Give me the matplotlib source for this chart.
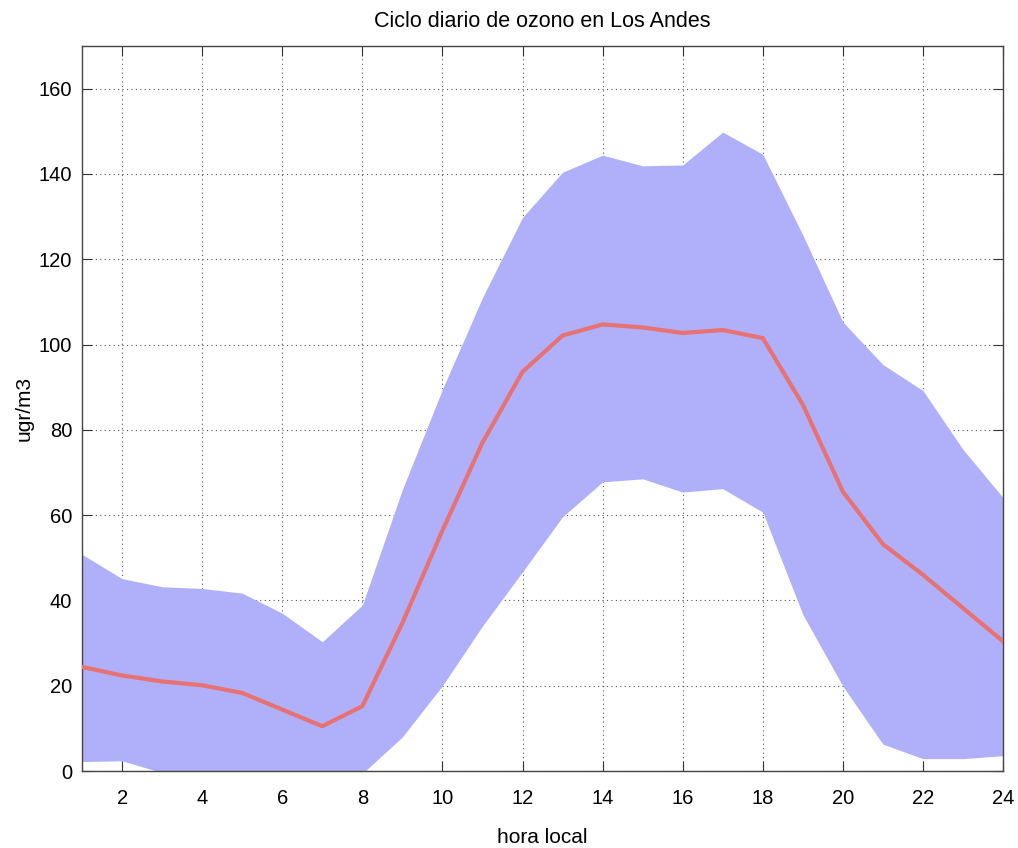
#ciclo diario de ozono - media y banda de variacion
import matplotlib
matplotlib.use("Agg")
import matplotlib.pyplot as plt

#data
hora = [1, 2, 3, 4, 5, 6, 7, 8, 9, 10, 11, 12, 13, 14, 15, 16, 17, 18, 19, 20, 21, 22, 23, 24]
media = [24.4, 22.4, 21.0, 20.1, 18.3, 14.4, 10.5, 15.2, 34.7, 56.4, 77.0, 93.6, 102.1, 104.7,
         104.0, 102.7, 103.4, 101.5, 85.9, 65.5, 53.2, 46.0, 38.2, 30.4]
banda_sup = [50.8, 45.1, 43.2, 42.8, 41.7, 37.0, 30.3, 38.9, 66.0, 89.5, 111.0, 129.8, 140.4, 144.4,
             141.9, 142.1, 149.8, 144.6, 125.7, 105.3, 95.3, 89.2, 75.4, 64.1]
banda_inf = [2.2, 2.4, -0.4, -2.0, -3.0, -3.0, -3.0, -0.6, 8.0, 20.0, 34.0, 46.7, 59.6, 67.8,
             68.5, 65.4, 66.2, 60.7, 36.7, 19.9, 6.3, 2.9, 2.9, 3.6]

xticks = [2, 4, 6, 8, 10, 12, 14, 16, 18, 20, 22, 24]
yticks = [0, 20, 40, 60, 80, 100, 120, 140, 160]

plt.rcParams["font.family"] = ["Liberation Sans", "DejaVu Sans"]

fig = plt.figure(figsize=(10.18, 8.48), dpi=100)
ax = fig.add_axes([0.0806, 0.0908, 0.9047, 0.8550])

#banda y linea media
ax.fill_between(hora, banda_inf, banda_sup, color="#b0b0fa", linewidth=0, zorder=2)
ax.plot(hora, media, color="#e87272", linewidth=3, zorder=3)

ax.set_xlim(1, 24)
ax.set_ylim(0, 170)
ax.set_xticks(xticks)
ax.set_yticks(yticks)
ax.tick_params(direction="in", top=True, right=True, length=7, labelsize=14.5, color="#333333")
ax.tick_params(axis="x", pad=13)
ax.tick_params(axis="y", pad=7)
ax.grid(True, linestyle=(0, (1, 3)), color="#555555", linewidth=0.8, zorder=1)
ax.set_axisbelow(True)
for s in ax.spines.values():
    s.set_color("#444444")
    s.set_linewidth(1.0)

ax.set_xlabel("hora local", fontsize=15, labelpad=14)
ax.set_ylabel("ugr/m3", fontsize=15, labelpad=4)
ax.set_title("Ciclo diario de ozono en Los Andes", fontsize=15.5, pad=14)

fig.savefig("out.png", dpi=100)
